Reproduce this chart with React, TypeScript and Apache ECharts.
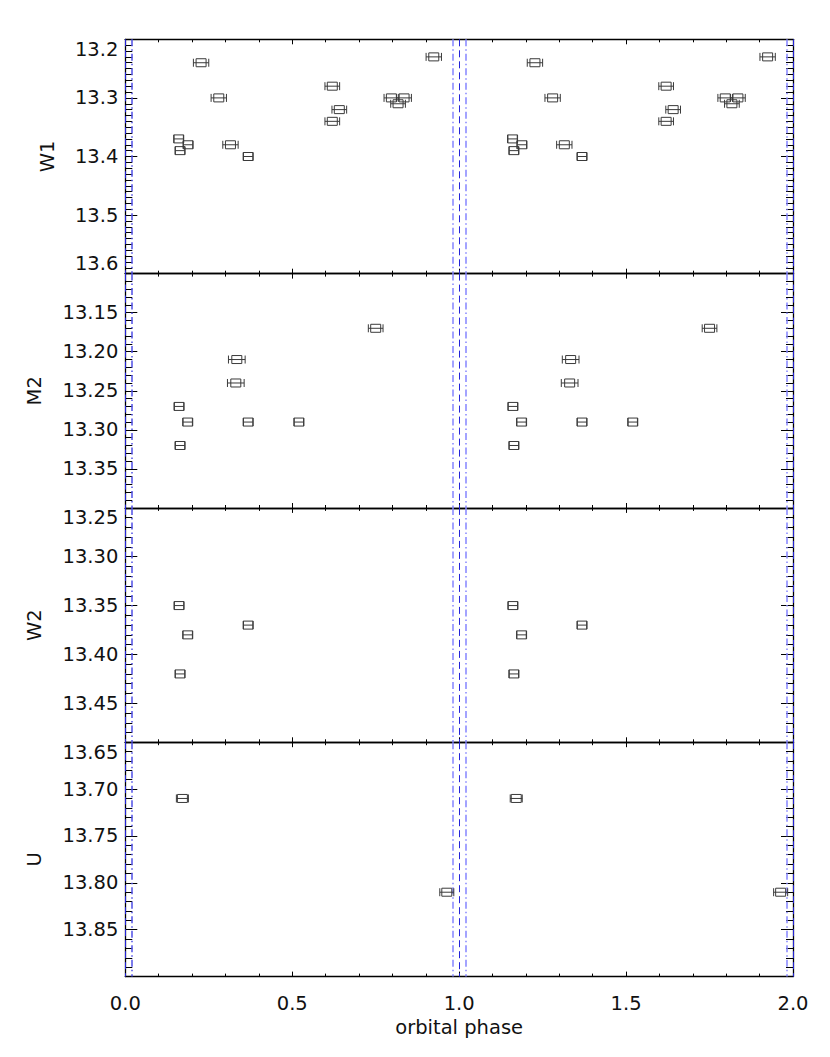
import React, { useEffect, useRef } from "react";
import * as echarts from "echarts";

// ---- data (phase, magnitude, phase error) ----
const W1_PHASE = [0.160, 0.188, 0.164, 0.227, 0.280, 0.315, 0.368, 0.620, 0.641, 0.620, 0.797, 0.835, 0.817, 0.924];
const W1_MAG = [13.37, 13.38, 13.39, 13.24, 13.30, 13.38, 13.40, 13.28, 13.32, 13.34, 13.30, 13.30, 13.31, 13.23];
const W1_ERR = [0.014, 0.014, 0.014, 0.023, 0.023, 0.023, 0.014, 0.022, 0.022, 0.022, 0.022, 0.022, 0.022, 0.023];

const M2_PHASE = [0.161, 0.187, 0.164, 0.334, 0.331, 0.368, 0.520, 0.750];
const M2_MAG = [13.27, 13.29, 13.32, 13.21, 13.24, 13.29, 13.29, 13.17];
const M2_ERR = [0.014, 0.014, 0.014, 0.025, 0.025, 0.014, 0.014, 0.022];

const W2_PHASE = [0.161, 0.187, 0.164, 0.368];
const W2_MAG = [13.35, 13.38, 13.42, 13.37];
const W2_ERR = [0.014, 0.014, 0.014, 0.014];

const U_PHASE = [0.171, 0.963];
const U_MAG = [13.71, 13.81];
const U_ERR = [0.018, 0.021];

const BAND_NAMES = ["W1", "M2", "W2", "U"];
const Y_MIN = [13.2, 13.1, 13.25, 13.65];
const Y_MAX = [13.6, 13.4, 13.49, 13.9];
const Y_INTERVAL = [0.1, 0.05, 0.05, 0.05];
const Y_MINOR = [10, 5, 5, 5];
const Y_DECIMALS = [1, 2, 2, 2];
const Y_SHOW_MIN = [true, false, true, true];
const Y_SHOW_MAX = [true, false, false, false];

const X_TICK_LABELS = ["0.0", "0.5", "1.0", "1.5", "2.0"];

// vertical reference lines (phase)
const DASHED_LINES = [0.0, 1.0, 2.0];
const DASHDOT_LINES = [0.023, 0.977, 1.023, 1.977];

const BANDS = [
  { phase: W1_PHASE, mag: W1_MAG, err: W1_ERR },
  { phase: M2_PHASE, mag: M2_MAG, err: M2_ERR },
  { phase: W2_PHASE, mag: W2_MAG, err: W2_ERR },
  { phase: U_PHASE, mag: U_MAG, err: U_ERR },
];

const FONT = "DejaVu Sans";
const TEXT_COLOR = "#111";
const FS = 19.5;

const TOPS = [39.3, 273.6, 507.9, 742.2];
const PANEL_H = 234.4;
const LEFT = 125.3;
const RIGHT = 37;

function buildOption() {
  const grid: any[] = [];
  const xAxis: any[] = [];
  const yAxis: any[] = [];
  const series: any[] = [];

  BAND_NAMES.forEach((name, i) => {
    grid.push({ left: LEFT, right: RIGHT, top: TOPS[i], height: PANEL_H });
    const isLast = i === BAND_NAMES.length - 1;
    const xCommon = {
      type: "value",
      gridIndex: i,
      min: 0,
      max: 2,
      interval: 0.5,
      axisLine: { show: true, onZero: false, lineStyle: { color: "#000", width: 1.3 } },
      axisTick: { show: true, inside: true, length: 5, lineStyle: { color: "#000", width: 1 } },
      minorTick: { show: true, splitNumber: 5, length: 3, lineStyle: { color: "#000", width: 1 } },
      splitLine: { show: false },
      minorSplitLine: { show: false },
    };
    xAxis.push({
      ...xCommon,
      position: "bottom",
      axisLabel: {
        show: isLast,
        margin: 17,
        fontFamily: FONT,
        fontSize: FS,
        color: TEXT_COLOR,
        formatter: (v: number) => X_TICK_LABELS[Math.round(v / 0.5)] ?? "",
      },
      name: isLast ? "orbital phase" : "",
      nameLocation: "middle",
      nameGap: 41,
      nameTextStyle: { fontFamily: FONT, fontSize: FS, color: TEXT_COLOR },
    });
    xAxis.push({ ...xCommon, position: "top", axisLabel: { show: false } });

    const dec = Y_DECIMALS[i];
    const yCommon = {
      type: "value",
      gridIndex: i,
      inverse: true,
      min: Y_MIN[i],
      max: Y_MAX[i],
      interval: Y_INTERVAL[i],
      axisLine: { show: true, onZero: false, lineStyle: { color: "#000", width: 1.3 } },
      axisTick: { show: true, inside: true, length: 12, lineStyle: { color: "#000", width: 1 } },
      minorTick: { show: true, splitNumber: Y_MINOR[i], length: 7, lineStyle: { color: "#000", width: 1 } },
      splitLine: { show: false },
      minorSplitLine: { show: false },
    };
    yAxis.push({
      ...yCommon,
      position: "left",
      name,
      nameLocation: "middle",
      nameRotate: 90,
      nameGap: i === 0 ? 68 : 81,
      nameTextStyle: { fontFamily: FONT, fontSize: FS, color: TEXT_COLOR },
      axisLabel: {
        show: true,
        margin: 7,
        fontFamily: FONT,
        fontSize: FS,
        color: TEXT_COLOR,
        showMinLabel: Y_SHOW_MIN[i],
        showMaxLabel: Y_SHOW_MAX[i],
        verticalAlignMinLabel: "top",
        verticalAlignMaxLabel: "bottom",
        formatter: (v: number) => v.toFixed(dec),
      },
    });
    yAxis.push({ ...yCommon, position: "right", axisLabel: { show: false } });

    const band = BANDS[i];
    const data: number[][] = [];
    for (let cycle = 0; cycle < 2; cycle++) {
      band.phase.forEach((p, k) => data.push([p + cycle, band.mag[k], band.err[k]]));
    }

    series.push({
      type: "custom",
      xAxisIndex: i * 2,
      yAxisIndex: i * 2,
      data,
      z: 5,
      renderItem: (params: any, api: any) => {
        const c = api.coord([api.value(0), api.value(1)]);
        const half = api.size([api.value(2), 0])[0];
        const bw = 5;
        const bh = 4;
        const style = { stroke: "#3a3a3a", lineWidth: 1, fill: null };
        return {
          type: "group",
          children: [
            { type: "rect", shape: { x: c[0] - bw, y: c[1] - bh, width: 2 * bw, height: 2 * bh }, style: { ...style, fill: "rgba(0,0,0,0)" } },
            { type: "line", shape: { x1: c[0] - half, y1: c[1], x2: c[0] + half, y2: c[1] }, style },
            { type: "line", shape: { x1: c[0] - half, y1: c[1] - bh, x2: c[0] - half, y2: c[1] + bh }, style },
            { type: "line", shape: { x1: c[0] + half, y1: c[1] - bh, x2: c[0] + half, y2: c[1] + bh }, style },
          ],
        };
      },
    });

    series.push({
      type: "scatter",
      xAxisIndex: i * 2,
      yAxisIndex: i * 2,
      data: [],
      silent: true,
      z: 3,
      markLine: {
        silent: true,
        symbol: "none",
        label: { show: false },
        animation: false,
        data: [
          ...DASHED_LINES.map((x) => ({
            xAxis: x,
            lineStyle: { color: "#2323d8", width: 1, type: [7, 4] },
          })),
          ...DASHDOT_LINES.map((x, k) => ({
            xAxis: x,
            lineStyle: { color: k === 0 ? "#5050e6" : "#8585ff", width: 1.5, type: [7, 3, 1.5, 3] },
          })),
        ],
      },
    });
  });

  return {
    animation: false,
    backgroundColor: "#fff",
    grid,
    xAxis,
    yAxis,
    series,
  };
}

export default function App() {
  const ref = useRef<HTMLDivElement>(null);
  useEffect(() => {
    if (!ref.current) return;
    const chart = echarts.init(ref.current, undefined, { renderer: "svg" });
    chart.setOption(buildOption() as any);
    return () => chart.dispose();
  }, []);
  return (
    <div
      ref={ref}
      style={{ position: "fixed", left: 0, top: 0, width: 830, height: 1057, background: "#fff" }}
    />
  );
}
